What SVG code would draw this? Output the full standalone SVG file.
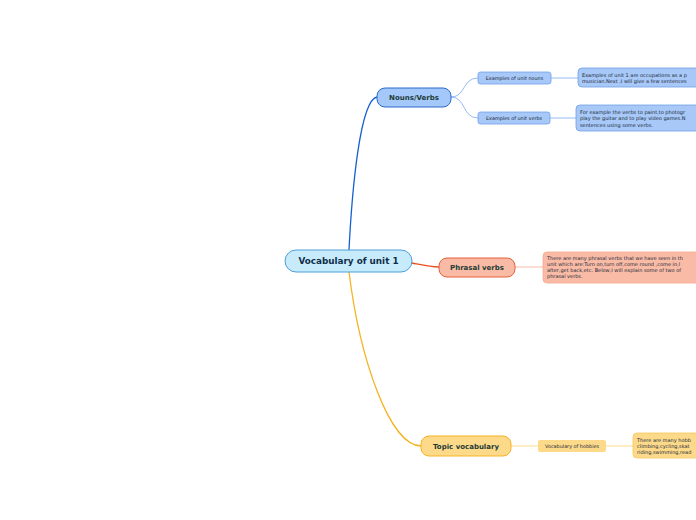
<svg xmlns="http://www.w3.org/2000/svg" width="696" height="520" viewBox="0 0 696 520">
<style>
text{font-family:"DejaVu Sans",Verdana,sans-serif;}
.main{font-size:8.8px;font-weight:bold;fill:#0f2e4a;}
.topic{font-size:7px;font-weight:bold;fill:#1d3b35;}
.sub{font-size:4.9px;fill:#1a2a3a;}
.note{font-size:5px;fill:#1a2a3a;}
.c{fill:none;}
</style>
<rect width="696" height="520" fill="#ffffff"/>
<g id="connectors">
<path class="c" d="M349,250 C352,190 360,100 377,97" stroke="#1560d0" stroke-width="1.3"/>
<path class="c" d="M412,263 C422,265 430,267 439,267" stroke="#e8501c" stroke-width="1.3"/>
<path class="c" d="M349,272 C360,360 390,446 421,446" stroke="#f5b324" stroke-width="1.3"/>
<path class="c" d="M451,97 C466,97 462,78 478,78" stroke="#7aaaf0" stroke-width="0.8"/>
<path class="c" d="M451,97 C466,97 462,118 478,118" stroke="#7aaaf0" stroke-width="0.8"/>
<path class="c" d="M551,78 L578,78" stroke="#7aaaf0" stroke-width="0.8"/>
<path class="c" d="M550,118 L576,118" stroke="#7aaaf0" stroke-width="0.8"/>
<path class="c" d="M515,267 L543,267" stroke="#f9bba6" stroke-width="1"/>
<path class="c" d="M511,446 L538,446" stroke="#fdd98a" stroke-width="1"/>
<path class="c" d="M606,446 L633,446" stroke="#fdd98a" stroke-width="1"/>
</g>
<g id="central">
<rect x="285" y="250" width="127" height="22" rx="11" fill="#c7ebfb" stroke="#4a9fd8" stroke-width="1"/>
<text class="main" x="348.5" y="264.3" text-anchor="middle">Vocabulary of unit 1</text>
</g>
<g id="nouns-verbs">
<rect x="377" y="88" width="74" height="19" rx="8" fill="#a3c8f9" stroke="#2a6ad0" stroke-width="1"/>
<text class="topic" x="414" y="100" text-anchor="middle">Nouns/Verbs</text>
</g>
<g id="phrasal-verbs">
<rect x="439" y="258" width="76" height="19" rx="8" fill="#f9bba6" stroke="#e8603c" stroke-width="1"/>
<text class="topic" x="477" y="270" text-anchor="middle">Phrasal verbs</text>
</g>
<g id="topic-vocabulary">
<rect x="421" y="436" width="90" height="20" rx="8" fill="#fdd98a" stroke="#f5b324" stroke-width="1"/>
<text class="topic" x="466" y="448.6" text-anchor="middle">Topic vocabulary</text>
</g>
<g id="examples-nouns">
<rect x="478" y="72" width="73" height="12" rx="2.5" fill="#a8c8f7" stroke="#6fa0ea" stroke-width="0.8"/>
<text class="sub" x="514.5" y="79.7" text-anchor="middle">Examples of unit nouns</text>
</g>
<g id="examples-verbs">
<rect x="478" y="112" width="72" height="12" rx="2.5" fill="#a8c8f7" stroke="#6fa0ea" stroke-width="0.8"/>
<text class="sub" x="514" y="119.7" text-anchor="middle">Examples of unit verbs</text>
</g>
<g id="vocab-hobbies">
<rect x="538" y="440" width="68" height="12" rx="2" fill="#fdd98a"/>
<text class="sub" x="572" y="447.7" text-anchor="middle">Vocabulary of hobbies</text>
</g>
<g id="nouns-text">
<rect x="578" y="68" width="130" height="19" rx="4" fill="#a8c8f7" stroke="#6fa0ea" stroke-width="0.8"/>
<text class="note" x="582" y="76.5">Examples of unit 1 are occupations as a p</text>
<text class="note" x="582" y="83">musician.Next ,I will give a few sentences</text>
</g>
<g id="verbs-text">
<rect x="576" y="105" width="130" height="26" rx="4" fill="#a8c8f7" stroke="#6fa0ea" stroke-width="0.8"/>
<text class="note" x="580" y="113.5">For example the verbs to paint,to photogr</text>
<text class="note" x="580" y="120">play the guitar and to play video games.N</text>
<text class="note" x="580" y="126.5">sentences using some verbs.</text>
</g>
<g id="phrasal-text">
<rect x="543" y="252" width="165" height="31" rx="4" fill="#f9bba6" stroke="#f7a88e" stroke-width="0.8"/>
<text class="note" x="547" y="259.5">There are many phrasal verbs that we have seen in th</text>
<text class="note" x="547" y="265.8">unit which are:Turn on,turn off,come round ,come in,l</text>
<text class="note" x="547" y="272.1">after,get back,etc. Below,I will explain some of two of</text>
<text class="note" x="547" y="278.4">phrasal verbs.</text>
</g>
<g id="hobbies-text">
<rect x="633" y="433" width="80" height="25" rx="4" fill="#fdd98a" stroke="#f5c860" stroke-width="0.8"/>
<text class="note" x="637" y="441.5">There are many hobb</text>
<text class="note" x="637" y="447.8">climbing,cycling,skat</text>
<text class="note" x="637" y="454.1">riding,swimming,read</text>
</g>
</svg>
